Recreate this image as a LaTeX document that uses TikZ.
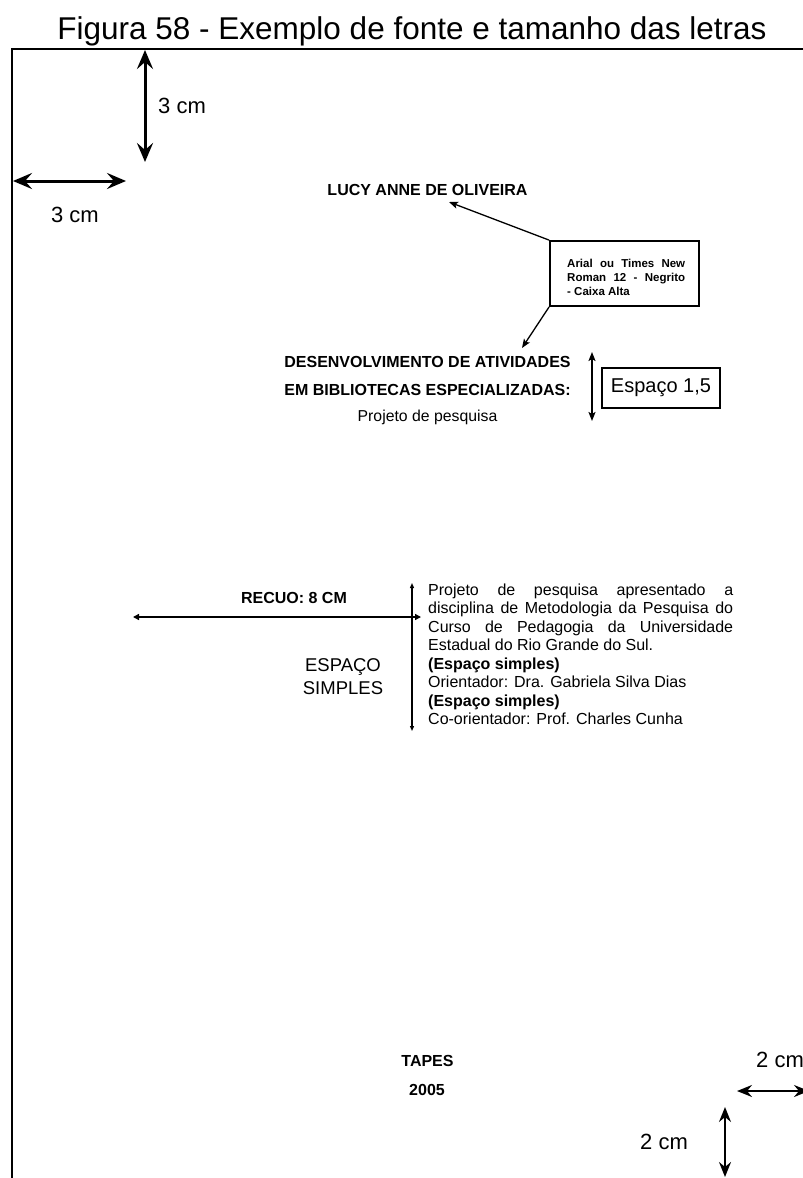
\documentclass[tikz,border=0pt]{standalone}
\usepackage{fontspec}
\setmainfont{Liberation Sans}
\usetikzlibrary{arrows.meta}
\tikzset{
  lbl/.style={inner sep=0pt, anchor=base},
  lblw/.style={inner sep=0pt, anchor=base west},
  fbody/.style={font=\fontsize{15.8}{18.5}\selectfont},
  fbodyb/.style={font=\fontsize{16}{18.5}\selectfont\bfseries},
  fcol/.style={font=\fontsize{16}{18.5}\selectfont},
  fcolb/.style={font=\fontsize{16}{18.5}\selectfont\bfseries},
  fbig/.style={font=\fontsize{22}{26}\selectfont},
  fbox/.style={font=\fontsize{11.5}{14}\selectfont\bfseries},
  bigdim/.style={line width=3pt, {Stealth[length=19pt,width=16pt,inset=7pt]}-{Stealth[length=19pt,width=16pt,inset=7pt]}},
  meddim/.style={line width=2pt, {Stealth[length=15pt,width=12pt,inset=5pt]}-{Stealth[length=15pt,width=12pt,inset=5pt]}},
  smalldim/.style={line width=1.8pt, {Stealth[length=9pt,width=7pt,inset=2pt]}-{Stealth[length=9pt,width=7pt,inset=2pt]}},
  thindim/.style={line width=1.4pt, {Triangle[length=6pt,width=6pt]}-{Triangle[length=6pt,width=6pt]}},
  hairdim/.style={line width=1.2pt, {Triangle[length=5pt,width=4pt]}-{Triangle[length=5pt,width=4pt]}},
  pointer/.style={line width=1.3pt, -{Stealth[length=9pt,width=7pt,inset=2pt]}},
}
\begin{document}
\begin{tikzpicture}[x=1pt,y=-1pt]
\useasboundingbox (0,0) rectangle (803,1178);
\clip (0,0) rectangle (803,1178);

% page frame
\draw[line width=2pt] (12,1182) -- (12,49) -- (806,49);

% title
\node[lbl, font=\fontsize{31.5}{36}\selectfont] (title) at (412,39) {Figura 58 - Exemplo de fonte e tamanho das letras};

% top-left margins
\coordinate (tv1) at (145,50);
\coordinate (tv2) at (145,162);
\draw[bigdim] (tv1) -- (tv2);
\node[lblw, fbig] (tvl) at (158,113) {3 cm};
\coordinate (th1) at (13,181);
\coordinate (th2) at (126,181);
\draw[bigdim] (th1) -- (th2);
\node[lbl, fbig] (thl) at (75,222) {3 cm};

% author
\node[lbl, fbodyb] (lucy) at (427.5,195) {LUCY ANNE DE OLIVEIRA};

% note box
\node[draw, line width=1.8pt, minimum width=149pt, minimum height=65pt, inner sep=0pt] (box) at (624.5,273.5) {};
\node[lblw, fbox] (bl1) at (567,267) {\makebox[118pt][s]{Arial ou Times New}};
\node[lblw, fbox] (bl2) at (567,281) {\makebox[118pt][s]{Roman 12 - Negrito}};
\node[lblw, fbox] (bl3) at (567,295) {- Caixa Alta};
\coordinate (lucytip) at (449,202);
\coordinate (titletip) at (522,348);
\draw[pointer] (box.north west) -- (lucytip);
\draw[pointer] (box.south west) -- (titletip);

% work title
\node[lbl, fbodyb] (t1) at (427.5,367) {DESENVOLVIMENTO DE ATIVIDADES};
\node[lbl, fbodyb] (t2) at (427.5,395) {EM BIBLIOTECAS ESPECIALIZADAS:};
\node[lbl, fbody] (t3) at (427.5,421.5) {Projeto de pesquisa};

% spacing 1,5
\coordinate (sv1) at (592,352);
\coordinate (sv2) at (592,421);
\draw[smalldim] (sv1) -- (sv2);
\node[draw, line width=1.4pt, minimum width=118pt, minimum height=40pt, inner sep=0pt, font=\fontsize{20}{24}\selectfont] (esp) at (661,388) {Espaço 1,5};

% recuo
\node[lbl, fbodyb] (recuo) at (294,603.5) {RECUO: 8 CM};
\coordinate (rh1) at (133,617);
\coordinate (rh2) at (421,617);
\draw[thindim] (rh1) -- (rh2);
\coordinate (rv1) at (412,583);
\coordinate (rv2) at (412,731);
\draw[hairdim] (rv1) -- (rv2);
\node[lbl, font=\fontsize{18.5}{22}\selectfont] (es1) at (343,671) {ESPAÇO};
\node[lbl, font=\fontsize{18.5}{22}\selectfont] (es2) at (343,694) {SIMPLES};

% nature of work
\node[lblw, fcol] (c1) at (428,595) {\makebox[305pt][s]{Projeto de pesquisa apresentado a}};
\node[lblw, fcol] (c2) at (428,613.5) {\makebox[305pt][s]{disciplina de Metodologia da Pesquisa do}};
\node[lblw, fcol] (c3) at (428,632) {\makebox[305pt][s]{Curso de Pedagogia da Universidade}};
\node[lblw, fcol] (c4) at (428,650.5) {Estadual do Rio Grande do Sul.};
\node[lblw, fcolb] (c5) at (428,669) {(Espaço simples)};
\node[lblw, fcol] (c6) at (428,687.5) {Orientador: Dra. Gabriela Silva Dias};
\node[lblw, fcolb] (c7) at (428,706) {(Espaço simples)};
\node[lblw, fcol] (c8) at (428,724.5) {Co-orientador: Prof. Charles Cunha};

% place and year
\node[lbl, fbodyb] (tapes) at (427.5,1066.5) {TAPES};
\node[lbl, fbodyb] (year) at (427,1095) {2005};

% bottom-right margins
\node[lblw, fbig] (bhl) at (756,1067) {2 cm};
\coordinate (bh1) at (737,1091);
\coordinate (bh2) at (809,1091);
\draw[meddim] (bh1) -- (bh2);
\coordinate (bv1) at (725,1107);
\coordinate (bv2) at (725,1177);
\draw[meddim] (bv1) -- (bv2);
\node[lblw, fbig] (bvl) at (640,1149) {2 cm};
\end{tikzpicture}
\end{document}
